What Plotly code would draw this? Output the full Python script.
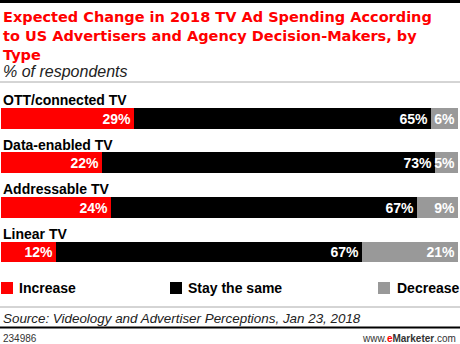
import plotly.graph_objects as go

# Survey results: expected change in 2018 TV ad spending, by TV type
categories = ["OTT/connected TV", "Data-enabled TV", "Addressable TV", "Linear TV"]
increase = [29, 22, 24, 12]
stay_same = [65, 73, 67, 67]
decrease = [6, 5, 9, 21]

series = [
    ("Increase", increase, "#ff0000"),
    ("Stay the same", stay_same, "#000000"),
    ("Decrease", decrease, "#999999"),
]

title_lines = [
    "Expected Change in 2018 TV Ad Spending According",
    "to US Advertisers and Agency Decision-Makers, by",
    "Type",
]

W, H = 460, 344
L, R, T, B = 1, 2, 96, 64
PW, PH = W - L - R, H - T - B


def px(x):
    return (x - L) / PW


def py(y):
    return (H - B - y) / PH


BOLD = "Liberation Sans"

fig = go.Figure()
for name, vals, color in series:
    fig.add_trace(go.Bar(
        y=categories, x=vals, name=name, orientation="h",
        marker=dict(color=color, line=dict(width=0)),
        text=[f"{v}%" for v in vals], textposition="inside",
        insidetextanchor="end", textangle=0,
        textfont=dict(family=BOLD, size=14, color="white", weight="bold"),
        showlegend=False, hoverinfo="skip", width=0.47,
    ))

annotations = []
# Category labels above each bar
for c in categories:
    annotations.append(dict(
        x=0, y=c, xref="paper", yref="y", xanchor="left", yanchor="middle",
        yshift=18, text=f"<b>{c}</b>", showarrow=False,
        font=dict(family=BOLD, size=14, color="black"),
    ))

# Title block
annotations.append(dict(
    x=px(1), y=py(7), xref="paper", yref="paper",
    xanchor="left", yanchor="top", align="left", showarrow=False,
    text="<b>" + "<br>".join(title_lines) + "</b>",
    font=dict(family="DejaVu Sans", size=14.5, color="#ff0000"),
))
annotations.append(dict(
    x=px(1), y=py(71), xref="paper", yref="paper", xanchor="left", yanchor="middle",
    showarrow=False, text="<i>% of respondents</i>",
    font=dict(family="Liberation Sans", size=16, color="#222222"),
))

# Legend
shapes = []
legend_x = [(1, 17), (170, 186), (378, 395)]
for (sx, tx), (name, _, color) in zip(legend_x, series):
    shapes.append(dict(type="rect", xref="paper", yref="paper",
                       x0=px(sx), x1=px(sx + 12), y0=py(282), y1=py(294),
                       fillcolor=color, line=dict(width=0)))
    annotations.append(dict(
        x=px(tx), y=py(288), xref="paper", yref="paper", xanchor="left",
        yanchor="middle", showarrow=False, text=f"<b>{name}</b>",
        font=dict(family=BOLD, size=14, color="black"),
    ))

# Source and footer
annotations.append(dict(
    x=px(1), y=py(318), xref="paper", yref="paper", xanchor="left", yanchor="middle",
    showarrow=False, text="<i>Source: Videology and Advertiser Perceptions, Jan 23, 2018</i>",
    font=dict(family="Liberation Sans", size=13.4, color="#222222"),
))
annotations.append(dict(
    x=px(1), y=py(338), xref="paper", yref="paper", xanchor="left", yanchor="middle",
    showarrow=False, text="234986",
    font=dict(family="Liberation Sans", size=10, color="#333333"),
))
annotations.append(dict(
    x=px(458), y=py(338), xref="paper", yref="paper", xanchor="right", yanchor="middle",
    showarrow=False,
    text="www.<b><span style='color:#ff0000'>e</span>Marketer</b>.com",
    font=dict(family="Liberation Sans", size=10, color="#333333"),
))

# Rules
shapes += [
    dict(type="line", xref="paper", yref="paper", x0=px(0), x1=px(460),
         y0=py(1.5), y1=py(1.5), line=dict(color="black", width=3)),
    dict(type="line", xref="paper", yref="paper", x0=px(0), x1=px(460),
         y0=py(82), y1=py(82), line=dict(color="#aaaaaa", width=1)),
    dict(type="line", xref="paper", yref="paper", x0=px(0), x1=px(460),
         y0=py(307), y1=py(307), line=dict(color="#aaaaaa", width=1)),
    dict(type="line", xref="paper", yref="paper", x0=px(0), x1=px(460),
         y0=py(327.5), y1=py(327.5), line=dict(color="black", width=2)),
]

fig.update_layout(
    width=W, height=H, barmode="stack", bargap=0,
    margin=dict(l=L, r=R, t=T, b=B, pad=0),
    paper_bgcolor="white", plot_bgcolor="white",
    xaxis=dict(range=[0, 100], visible=False, fixedrange=True),
    yaxis=dict(autorange="reversed", visible=False, fixedrange=True),
    annotations=annotations, shapes=shapes,
    uniformtext=dict(minsize=14, mode="show"),
)

fig.write_html("out.html", config={"displayModeBar": False})
